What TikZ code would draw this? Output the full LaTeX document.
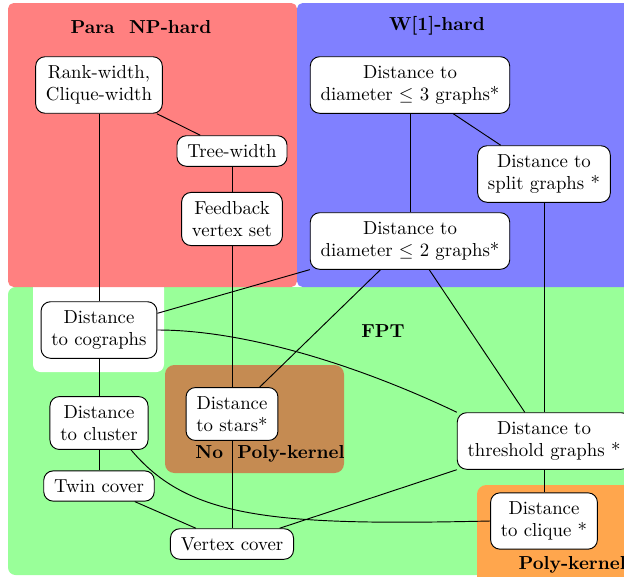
\documentclass[tikz,border=0pt]{standalone}
\definecolor{cred}{RGB}{255,128,128}
\definecolor{cblue}{RGB}{128,128,255}
\definecolor{cgreen}{RGB}{153,255,153}
\definecolor{cbrown}{RGB}{197,139,82}
\definecolor{corange}{RGB}{255,166,77}
\begin{document}
\begin{tikzpicture}[x=0.532pt,y=-0.532pt,
  box/.style={draw, fill=white, rounded corners=5pt, align=center, inner xsep=5.5pt, inner ysep=4.6pt, line width=0.5pt},
  lbl/.style={font=\bfseries},
  edge/.style={line width=0.5pt}]
\useasboundingbox (0,0) rectangle (624,576);
\clip (0,0) rectangle (624,576);
% regions
\fill[cgreen, rounded corners=4pt] (8,287) rectangle (640,575);
\fill[white, rounded corners=4pt] (33,280) rectangle (164,372);
\fill[cred, rounded corners=3pt] (8,3) rectangle (297,287);
\fill[cblue, rounded corners=3pt] (297,3) rectangle (640,287);
\fill[cbrown, rounded corners=5pt] (165,365) rectangle (344,473);
\fill[corange, rounded corners=5pt] (477,485) rectangle (640,590);
% region labels
\node[lbl] (lnp) at (141,27) {Para\ \ NP-hard};
\node[lbl] (lw1) at (437,26) {W[1]-hard};
\node[lbl] (lfpt) at (383,331) {FPT};
\node[lbl] (lnpk) at (270,454) {No\ \ Poly-kernel};
\node[lbl, anchor=west] (lpk) at (512,565) {Poly-kernel};
% nodes
\node[box] (rw) at (99,85) {Rank-width,\\Clique-width};
\node[box] (tw) at (232,151) {Tree-width};
\node[box] (fvs) at (232,219) {Feedback\\vertex set};
\node[box] (d3) at (410,85) {Distance to\\diameter $\leq$ 3 graphs*};
\node[box] (sp) at (544,174) {Distance to\\split graphs *};
\node[box] (d2) at (410,241) {Distance to\\diameter $\leq$ 2 graphs*};
\node[box] (cog) at (99,330) {Distance\\to cographs};
\node[box] (clu) at (99,423) {Distance\\to cluster};
\node[box] (twc) at (99,486) {Twin cover};
\node[box] (st) at (232,414) {Distance\\to stars*};
\node[box] (vc) at (232,544) {Vertex cover};
\node[box] (thr) at (544,441) {Distance to\\threshold graphs *};
\node[box] (cl) at (544,521) {Distance\\to clique *};
% edges
\draw[edge] (rw) -- (tw);
\draw[edge] (rw) -- (cog);
\draw[edge] (tw) -- (fvs);
\draw[edge] (fvs) -- (st);
\draw[edge] (st) -- (vc);
\draw[edge] (d3) -- (d2);
\draw[edge] (d3) -- (sp);
\draw[edge] (sp) -- (thr);
\draw[edge] (d2) -- (cog);
\draw[edge] (d2) -- (st);
\draw[edge] (d2) -- (thr);
\draw[edge] (cog) -- (clu);
\draw[edge] (clu) -- (twc);
\draw[edge] (twc) -- (vc);
\draw[edge] (vc) -- (thr);
\draw[edge] (thr) -- (cl);
\draw[edge] (cog.east) .. controls +(93,0) and +(-90,-43) .. (thr.north west);
\draw[edge] (clu.-40) .. controls +(57,68) and +(-219,5) .. (cl.west);
\end{tikzpicture}
\end{document}
